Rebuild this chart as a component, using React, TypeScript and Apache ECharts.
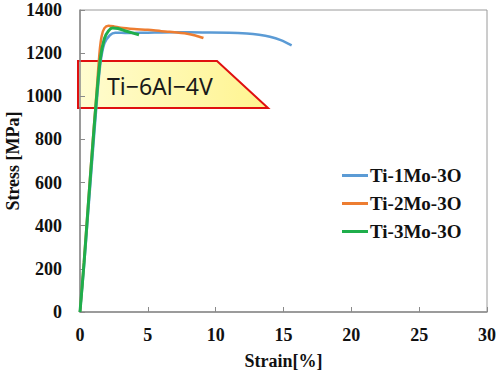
import React, { useEffect, useRef } from "react";
import * as echarts from "echarts";

const seriesNames = ["Ti-1Mo-3O", "Ti-2Mo-3O", "Ti-3Mo-3O"];
const seriesColors = ["#5b9bd5", "#ed7d31", "#1fae4b"];

const ti1Mo: number[][] = [
  [0, 0], [0.3, 215], [0.6, 460], [0.9, 705], [1.2, 945], [1.5, 1150], [1.8, 1245],
  [2.2, 1283], [2.6, 1295], [3.5, 1293], [5, 1295], [7, 1297], [9, 1296], [11, 1295],
  [12.3, 1291], [13.2, 1285], [14, 1276], [14.8, 1260], [15.6, 1236],
];
const ti2Mo: number[][] = [
  [0, 0], [0.3, 240], [0.6, 500], [0.9, 760], [1.2, 1000], [1.45, 1210], [1.6, 1280],
  [1.8, 1316], [2.1, 1327], [2.5, 1324], [3, 1318], [4, 1312], [5, 1308], [6, 1302],
  [6.6, 1299], [7.9, 1290], [8.5, 1282], [9.1, 1270],
];
const ti3Mo: number[][] = [
  [0, 0], [0.3, 230], [0.6, 488], [0.9, 740], [1.2, 980], [1.5, 1175], [1.8, 1268],
  [2.1, 1303], [2.4, 1316], [2.8, 1314], [3.3, 1304], [3.8, 1295], [4.35, 1285],
];
const seriesData = [ti1Mo, ti2Mo, ti3Mo];

const annotationText = "Ti\u22126Al\u22124V";

export default function App() {
  const ref = useRef<HTMLDivElement>(null);
  useEffect(() => {
    if (!ref.current) return;
    const chart = echarts.init(ref.current, null, { renderer: "svg" });
    const axisFont = {
      fontFamily: "Liberation Serif",
      fontWeight: "bold" as const,
      fontSize: 18,
      color: "#111",
    };
    chart.setOption({
      animation: false,
      backgroundColor: "#fff",
      grid: {
        left: 80,
        right: 13,
        top: 10,
        bottom: 62,
        containLabel: false,
        outerBoundsMode: "none",
        show: true,
        borderColor: "#9a9a9a",
        borderWidth: 1,
      },
      xAxis: {
        type: "value",
        min: 0,
        max: 30,
        interval: 5,
        name: "Strain[%]",
        nameLocation: "middle",
        nameGap: 40,
        nameMoveOverlap: false,
        nameTextStyle: axisFont,
        axisLine: { lineStyle: { color: "#8a8a8a", width: 1.5 } },
        axisTick: { inside: true, length: 5, lineStyle: { color: "#8a8a8a" } },
        axisLabel: { ...axisFont, margin: 14, formatter: (v: number) => String(v) },
        splitLine: { show: false },
      },
      yAxis: {
        type: "value",
        min: 0,
        max: 1400,
        interval: 200,
        name: "Stress [MPa]",
        nameLocation: "middle",
        nameRotate: 90,
        nameGap: 58,
        nameMoveOverlap: false,
        nameTextStyle: { ...axisFont, lineHeight: 18 },
        axisLine: { show: true, lineStyle: { color: "#8a8a8a", width: 1.5 } },
        axisTick: { show: true, inside: true, length: 5, lineStyle: { color: "#8a8a8a" } },
        axisLabel: { ...axisFont, margin: 18, lineHeight: 16, formatter: (v: number) => String(v) },
        splitLine: { show: false },
      },
      legend: {
        orient: "vertical",
        left: 342,
        top: 166,
        padding: 0,
        itemGap: 9,
        itemWidth: 26,
        itemHeight: 3,
        icon: "rect",
        textStyle: { ...axisFont, fontSize: 19, padding: [0, 0, 0, -3] },
        data: seriesNames,
      },
      graphic: [
        {
          type: "polygon",
          z: 0,
          shape: { points: [[78, 61], [217, 61], [268, 108], [78, 108]] },
          style: {
            fill: new echarts.graphic.LinearGradient(0, 0, 1, 0, [
              { offset: 0, color: "#fffcd0" },
              { offset: 1, color: "#fff48f" },
            ]),
            stroke: "#e01010",
            lineWidth: 2,
          },
        },
        {
          type: "text",
          z: 1,
          x: 107,
          y: 86,
          style: {
            text: annotationText,
            font: '23px "Noto Sans"',
            fill: "#1a1a1a",
            textVerticalAlign: "middle",
            verticalAlign: "middle",
          },
        },
      ],
      series: seriesNames.map((name, i) => ({
        name,
        type: "line",
        data: seriesData[i],
        symbol: "none",
        smooth: 0.3,
        z: 5 + i,
        lineStyle: { color: seriesColors[i], width: i === 2 ? 3 : 2.5 },
        itemStyle: { color: seriesColors[i] },
      })),
    });
    return () => chart.dispose();
  }, []);
  return <div ref={ref} style={{ width: 500, height: 374, position: "absolute", left: 0, top: 0 }} />;
}
